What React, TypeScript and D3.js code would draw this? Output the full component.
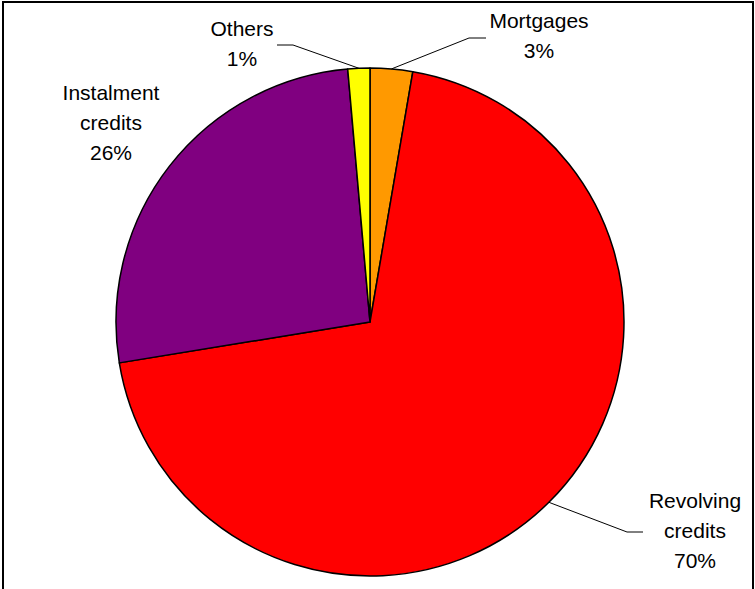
import React from "react";
import * as d3 from "d3";

const categories = ["Mortgages", "Revolving credits", "Instalment credits", "Others"];
const values = [2.7, 69.8, 26.2, 1.4];
const colors = ["#FF9900", "#FF0000", "#800080", "#FFFF00"];

// layout (not data)
const W = 755;
const H = 589;
const CX = 370;
const CY = 322;
const R = 254;
const FONT = 21;
const LINE = 30;

type LabelLayout = { x: number; y: number; lines: string[]; leader?: { elbow: [number, number]; end: [number, number] } };

const labelLayout: Record<string, Omit<LabelLayout, "lines">> = {
  "Mortgages": { x: 539, y: 28, leader: { elbow: [469, 38], end: [486, 38] } },
  "Revolving credits": { x: 695, y: 508, leader: { elbow: [627, 532], end: [643, 532] } },
  "Instalment credits": { x: 111, y: 100 },
  "Others": { x: 242, y: 36, leader: { elbow: [293, 45], end: [277, 45] } },
};

export default function App() {
  const data = categories.map((c, i) => ({ name: c, value: values[i], color: colors[i] }));
  const total = d3.sum(values);
  const pie = d3.pie<any>().value((d: any) => d.value).sort(null).startAngle(0).endAngle(2 * Math.PI);
  const arcs = pie(data);
  const arc = d3.arc<any>().innerRadius(0).outerRadius(R);

  return (
    <svg width={W} height={H} style={{ position: "absolute", left: 0, top: 0, background: "#fff" }}>
      <rect x={0} y={0} width={W} height={H} fill="#fff" />
      <rect x={3} y={2} width={750} height={620} fill="none" stroke="#000" strokeWidth={2} />
      <g transform={`translate(${CX},${CY})`}>
        {arcs.map((a, i) => (
          <path key={i} d={arc(a) as string} fill={a.data.color} stroke="#000" strokeWidth={1.5} strokeLinejoin="round" />
        ))}
      </g>
      {arcs.map((a, i) => {
        const lay = labelLayout[a.data.name];
        if (!lay || !lay.leader) return null;
        const mid = (a.startAngle + a.endAngle) / 2;
        const sx = CX + R * Math.sin(mid);
        const sy = CY - R * Math.cos(mid);
        const { elbow, end } = lay.leader;
        return (
          <polyline key={"l" + i} points={`${sx},${sy} ${elbow[0]},${elbow[1]} ${end[0]},${end[1]}`} fill="none" stroke="#000" strokeWidth={1} />
        );
      })}
      {arcs.map((a, i) => {
        const lay = labelLayout[a.data.name];
        const pct = Math.round((a.data.value / total) * 100) + "%";
        const words = a.data.name.split(" ");
        const lines = [...words, pct];
        return (
          <text key={"t" + i} x={lay.x} y={lay.y} textAnchor="middle" fontFamily="'Liberation Sans', Arial, sans-serif" fontSize={FONT} fill="#000">
            {lines.map((ln, j) => (
              <tspan key={j} x={lay.x} y={lay.y + j * LINE}>{ln}</tspan>
            ))}
          </text>
        );
      })}
    </svg>
  );
}
